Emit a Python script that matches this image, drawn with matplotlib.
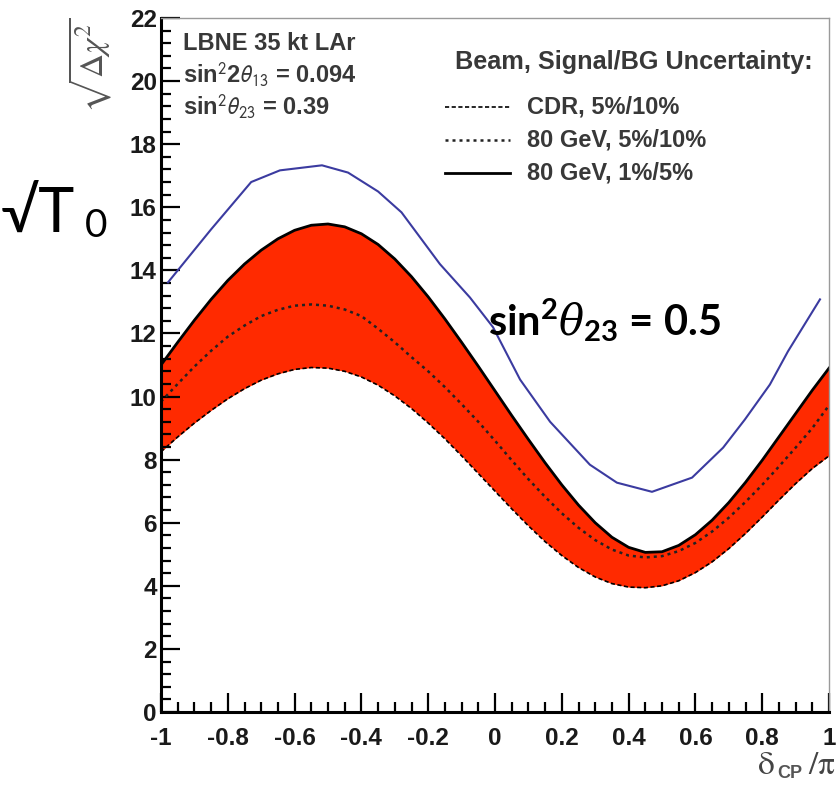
import numpy as np
import matplotlib
matplotlib.use("Agg")
import matplotlib.pyplot as plt
from matplotlib.lines import Line2D
from matplotlib.ticker import MultipleLocator

W, H = 838, 786

# delta_CP / pi grid of the sensitivity curves
delta_cp = np.linspace(-1.0, 1.0, 41)

# sqrt(delta chi^2) for the three beam / signal-BG uncertainty options
cdr_5_10 = [8.25, 8.72, 9.16, 9.56, 9.93, 10.25, 10.52, 10.72, 10.86, 10.92,
            10.90, 10.80, 10.62, 10.36, 10.02, 9.62, 9.16, 8.66, 8.12, 7.56,
            7.00, 6.44, 5.90, 5.40, 4.96, 4.58, 4.28, 4.07, 3.96, 3.94,
            4.00, 4.16, 4.42, 4.76, 5.18, 5.66, 6.18, 6.72, 7.24, 7.72, 8.12]
gev80_5_10 = [9.84, 10.40, 10.95, 11.45, 11.90, 12.25, 12.55, 12.75, 12.88, 12.92,
              12.88, 12.76, 12.55, 12.15, 11.72, 11.25, 10.80, 10.30, 9.76, 9.20,
              8.60, 7.98, 7.38, 6.82, 6.30, 5.84, 5.45, 5.15, 4.96, 4.90,
              4.94, 5.10, 5.36, 5.72, 6.16, 6.66, 7.20, 7.78, 8.38, 9.00, 9.72]
gev80_1_5 = [11.00, 11.72, 12.42, 13.08, 13.68, 14.20, 14.64, 15.00, 15.27, 15.43,
             15.47, 15.38, 15.16, 14.82, 14.36, 13.80, 13.16, 12.46, 11.72, 10.96,
             10.18, 9.40, 8.64, 7.90, 7.20, 6.56, 6.00, 5.54, 5.22, 5.06,
             5.08, 5.28, 5.62, 6.08, 6.64, 7.28, 7.98, 8.72, 9.46, 10.20, 10.90]

# maximal mixing curve (sin^2 theta23 = 0.5)
max_mix_x = [-0.979, -0.85, -0.73, -0.644, -0.518, -0.44, -0.35, -0.28, -0.165,
             -0.075, -0.006, 0.075, 0.165, 0.284, 0.365, 0.47, 0.59, 0.683,
             0.748, 0.823, 0.877, 0.973]
max_mix_y = [13.62, 15.30, 16.80, 17.17, 17.33, 17.10, 16.50, 15.84, 14.20,
             13.14, 12.20, 10.54, 9.20, 7.84, 7.27, 6.98, 7.43, 8.38,
             9.27, 10.38, 11.43, 13.08]

x_ticks = [-1, -0.8, -0.6, -0.4, -0.2, 0, 0.2, 0.4, 0.6, 0.8, 1]
x_tick_labels = ["-1", "-0.8", "-0.6", "-0.4", "-0.2", "0", "0.2", "0.4", "0.6", "0.8", "1"]
y_ticks = [0, 2, 4, 6, 8, 10, 12, 14, 16, 18, 20, 22]
y_tick_labels = [str(v) for v in y_ticks]

legend_labels = ["CDR, 5%/10%", "80 GeV, 5%/10%", "80 GeV, 1%/5%"]

BAND = "#ff2a00"
BLUE = "#3b3ba0"
TXT = "#383838"

plt.rcParams["mathtext.fontset"] = "custom"
plt.rcParams["mathtext.rm"] = "Lato"
plt.rcParams["mathtext.bf"] = "Lato:bold"
plt.rcParams["mathtext.it"] = "DejaVu Serif:italic"


def fpos(x, y):
    return x / W, 1 - y / H


fig = plt.figure(figsize=(W / 100, H / 100), dpi=100)
ax = fig.add_axes([161 / W, (H - 712) / H, (829 - 161) / W, (712 - 18) / H])

ax.fill_between(delta_cp, cdr_5_10, gev80_1_5, color=BAND, lw=0, zorder=1)
cdr_style = dict(color="black", lw=1.2, dashes=(2.5, 1.5))
mid_style = dict(color="#222222", lw=1.8, dashes=(1.2, 1.6))
top_style = dict(color="black", lw=2.0)
ax.plot(delta_cp, cdr_5_10, zorder=2, **cdr_style)
ax.plot(delta_cp, gev80_5_10, zorder=2, **mid_style)
ax.plot(delta_cp, gev80_1_5, zorder=2, **top_style)
ax.plot(max_mix_x, max_mix_y, color=BLUE, lw=1.5, zorder=3)

ax.set_xlim(-1, 1)
ax.set_ylim(0, 22)
ax.set_xticks(x_ticks)
ax.set_xticklabels(x_tick_labels)
ax.set_yticks(y_ticks)
ax.set_yticklabels(y_tick_labels)
ax.xaxis.set_minor_locator(MultipleLocator(0.05))
ax.yaxis.set_minor_locator(MultipleLocator(0.4))
ax.tick_params(which="both", direction="in", width=1.6, color="black",
               top=False, right=False)
ax.tick_params(which="major", length=14)
ax.tick_params(which="minor", length=7)
ax.tick_params(axis="x", pad=11)
ax.tick_params(axis="y", pad=3)
for lab in ax.get_xticklabels() + ax.get_yticklabels():
    lab.set_fontfamily("Liberation Sans")
    lab.set_fontweight("bold")
    lab.set_fontsize(17.5)
    lab.set_color("#1a1a1a")

for side in ("left", "bottom"):
    ax.spines[side].set_linewidth(2.2)
    ax.spines[side].set_color("black")
for side in ("top", "right"):
    ax.spines[side].set_linewidth(1.0)
    ax.spines[side].set_color("#9a9a9a")

# y axis title, rotated root-style
fig.text(*fpos(90, 17), r"$\sqrt{\Delta\chi^{2}}$", rotation=90, ha="center", va="top",
         fontsize=24, color="#555555", math_fontfamily="stix")
# x axis title: delta_CP / pi
fig.text(*fpos(757, 774), r"$\mathrm{\delta}$", ha="left", va="baseline",
         fontsize=24, color="#444444", math_fontfamily="stix")
fig.text(*fpos(777, 778), "CP", ha="left", va="baseline", fontsize=13,
         fontweight="bold", family="Liberation Sans", color="#555555")
fig.text(*fpos(836, 774), r"$/\mathrm{\pi}$", ha="right", va="baseline",
         fontsize=24, color="#444444", math_fontfamily="stix")

# experiment / oscillation parameters
info_font = dict(fontsize=17, fontweight="bold", color=TXT, family="Liberation Sans",
                 va="center", ha="left")
fig.text(*fpos(183, 43), "LBNE 35 kt LAr", **info_font)
fig.text(*fpos(183, 75), r"sin$^{2}$2$\theta_{13}$ = 0.094", math_fontfamily="stixsans", **info_font)
fig.text(*fpos(183, 107), r"sin$^{2}\theta_{23}$ = 0.39", math_fontfamily="stixsans", **info_font)

# legend
fig.text(*fpos(455, 62), "Beam, Signal/BG Uncertainty:", **{**info_font, "fontsize": 18.2})
leg_rows = [107, 140, 173]
for row, style, label in zip(leg_rows, [cdr_style, mid_style, top_style], legend_labels):
    x0, y0 = fpos(445, row)
    x1, _ = fpos(510, row)
    fig.add_artist(Line2D([x0, x1], [y0, y0], transform=fig.transFigure, **style))
    fig.text(*fpos(527, row), label, **info_font)

# slide annotations
fig.text(*fpos(1, 232), "\u221aT", fontsize=44, family=["Lato", "DejaVu Sans"],
         color="black", va="baseline", ha="left")
fig.text(*fpos(85, 237), "0", fontsize=28, family="Lato",
         color="black", va="baseline", ha="left")
fig.text(*fpos(488, 335), r"$\mathbf{sin}^{\mathbf{2}}\theta_{\mathbf{23}}$ = 0.5",
         fontsize=30, fontweight="bold", family="Lato", color="black",
         va="baseline", ha="left", math_fontfamily="custom")

fig.savefig("out.png", dpi=100, facecolor="white")
